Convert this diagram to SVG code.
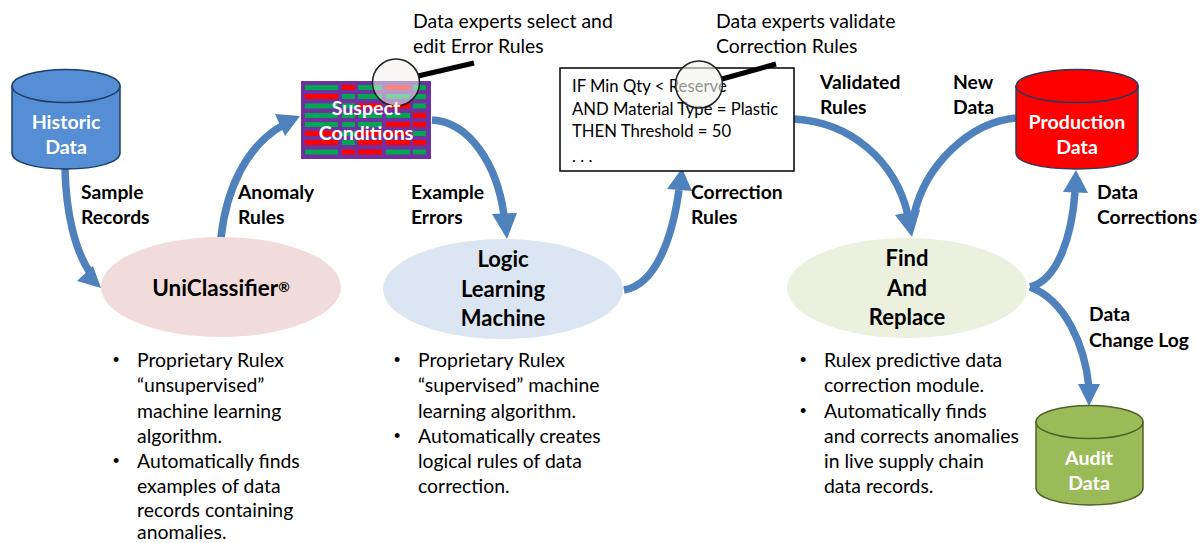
<svg xmlns="http://www.w3.org/2000/svg" width="1203" height="543" viewBox="0 0 1203 543">
<style>
text{font-family:"Lato","Carlito","Open Sans",sans-serif;font-size:19.4px;fill:#000}
.b{font-weight:700;font-size:19.3px}
.w{font-weight:700;fill:#fff;text-anchor:middle;font-size:19.6px}
.t{font-weight:700;text-anchor:middle;font-size:22px}
.s{font-size:16.7px}
.d{font-family:"Liberation Sans",sans-serif;font-size:18px}
.c{fill:none;stroke:#4f81bd;stroke-width:7.5}
.h{fill:#4f81bd}
.g{fill:#00a651}.r{fill:#ff0000}
.lens{fill:#f2f1ec;stroke:#222;stroke-width:1.5}
</style>
<rect width="1203" height="543" fill="#fff"/>
<g id="connectors">
<path class="c" d="M65 169C66 210 74 250 91 274"/><path class="h" d="M101 288L77 281L93 266Z"/>
<path class="c" d="M221 238C226 190 246 145 285 124"/><path class="h" d="M300 116L285 136L275 114Z"/>
<path class="c" d="M432 120C470 122 497 165 504 215"/><path class="h" d="M507 239L492 214L517 213Z"/>
<path class="c" d="M624 290C655 285 672 240 679 190"/><path class="h" d="M682 168L692 191L667 189Z"/>
<path class="c" d="M794 119C850 122 895 160 908 215"/><path class="h" d="M912 237L895 215L920 210Z"/>
<path class="c" d="M1016 118C970 122 925 165 914 215"/>
<path class="c" d="M1030 287C1058 280 1072 235 1075 192"/><path class="h" d="M1076 170L1088 193L1063 192Z"/>
<path class="c" d="M1030 287C1065 300 1085 345 1089 388"/><path class="h" d="M1089 406L1078 384L1100 384Z"/>
</g>
<g id="historic-data">
<path d="M12 86V153C12 162 34 169 66 169S120 162 120 153V86Z" fill="#558ed5" stroke="#1f3f66" stroke-width="1.5"/>
<ellipse cx="66" cy="86" rx="54" ry="16.500" fill="#558ed5" stroke="#1f3f66" stroke-width="1.5"/>
<text class="w" x="66" y="129">Historic</text><text class="w" x="66" y="154">Data</text>
</g>
<g id="production-data">
<path d="M1016 86V153C1016 162 1038 169 1077 169S1138 162 1138 153V86Z" fill="#ff0000" stroke="#2b3a5c" stroke-width="1.5"/>
<ellipse cx="1077" cy="86" rx="61" ry="16.500" fill="#ff0000" stroke="#2b3a5c" stroke-width="1.5"/>
<text class="w" x="1077" y="129">Production</text><text class="w" x="1077" y="154">Data</text>
</g>
<g id="audit-data">
<path d="M1036 422V488C1036 497 1058 505 1090 505S1143 497 1143 488V422Z" fill="#9bbb59" stroke="#4f6228" stroke-width="1.5"/>
<ellipse cx="1089.500" cy="422" rx="53.500" ry="16.500" fill="#9bbb59" stroke="#4f6228" stroke-width="1.5"/>
<text class="w" x="1089" y="465">Audit</text><text class="w" x="1089" y="490">Data</text>
</g>
<g id="uniclassifier">
<ellipse cx="221" cy="287" rx="120" ry="50" fill="#f2dcdb"/>
<text class="t" x="221" y="296" font-size="22.5" style="font-size:22.5px">UniClassifier<tspan style="font-size:14px" dy="-4">®</tspan></text>
</g>
<g id="logic-learning-machine">
<ellipse cx="503" cy="289" rx="120" ry="50" fill="#dce6f2"/>
<text class="t" x="503" y="267">Logic</text><text class="t" x="503" y="297">Learning</text><text class="t" x="503" y="326">Machine</text>
</g>
<g id="find-and-replace">
<ellipse cx="907" cy="288" rx="120" ry="50" fill="#ebf1de"/>
<text class="t" x="907" y="266">Find</text><text class="t" x="907" y="296">And</text><text class="t" x="907" y="325">Replace</text>
</g>
<g id="suspect-conditions">
<rect x="301" y="81" width="130" height="78" fill="#7030a0"/>
<g>
<rect class="g" x="305" y="85" width="33" height="5"/><rect class="r" x="342" y="85" width="13" height="5"/><rect class="g" x="358" y="85" width="24" height="5"/><rect class="r" x="386" y="85" width="24" height="5"/><rect class="g" x="413" y="85" width="13" height="5"/>
<rect class="r" x="305" y="94" width="33" height="5"/><rect class="g" x="342" y="94" width="13" height="5"/><rect class="g" x="358" y="94" width="24" height="5"/><rect class="g" x="386" y="94" width="24" height="5"/><rect class="g" x="413" y="94" width="13" height="5"/>
<rect class="g" x="305" y="103.500" width="33" height="5"/><rect class="g" x="342" y="103.500" width="13" height="5"/><rect class="r" x="358" y="103.500" width="24" height="5"/><rect class="r" x="386" y="103.500" width="24" height="5"/><rect class="g" x="413" y="103.500" width="13" height="5"/>
<rect class="g" x="305" y="113" width="33" height="5"/><rect class="g" x="342" y="113" width="13" height="5"/><rect class="g" x="358" y="113" width="24" height="5"/><rect class="g" x="386" y="113" width="24" height="5"/><rect class="r" x="413" y="113" width="13" height="5"/>
<rect class="g" x="305" y="122" width="33" height="5"/><rect class="g" x="342" y="122" width="13" height="5"/><rect class="g" x="358" y="122" width="24" height="5"/><rect class="r" x="386" y="122" width="24" height="5"/><rect class="r" x="413" y="122" width="13" height="5"/>
<rect class="r" x="305" y="131" width="33" height="5"/><rect class="g" x="342" y="131" width="13" height="5"/><rect class="r" x="358" y="131" width="24" height="5"/><rect class="r" x="386" y="131" width="24" height="5"/><rect class="g" x="413" y="131" width="13" height="5"/>
<rect class="r" x="305" y="140" width="33" height="5"/><rect class="g" x="342" y="140" width="13" height="5"/><rect class="r" x="358" y="140" width="24" height="5"/><rect class="r" x="386" y="140" width="24" height="5"/><rect class="r" x="413" y="140" width="13" height="5"/>
<rect class="g" x="305" y="149.500" width="33" height="5"/><rect class="r" x="342" y="149.500" width="13" height="5"/><rect class="r" x="358" y="149.500" width="24" height="5"/><rect class="g" x="386" y="149.500" width="24" height="5"/><rect class="g" x="413" y="149.500" width="13" height="5"/>
</g>
<line x1="418" y1="76" x2="474" y2="63" stroke="#000" stroke-width="5"/>
<circle class="lens" cx="396" cy="82.500" r="23.500" fill-opacity=".55"/>
<text class="w" x="366" y="115">Suspect</text><text class="w" x="366" y="140">Conditions</text>
</g>
<g id="correction-rules-box">
<rect x="560" y="68" width="234" height="103" fill="#fff" stroke="#000" stroke-width="1.500"/>
<text class="s" x="572" y="92">IF Min Qty &lt; Reserve</text>
<text class="s" x="572" y="115">AND Material Type = Plastic</text>
<text class="s" x="572" y="137">THEN Threshold = 50</text>
<text class="s" x="572" y="162">. . .</text>
<line x1="722" y1="79" x2="776" y2="64" stroke="#000" stroke-width="5"/>
<circle class="lens" cx="699" cy="84.500" r="23.500" fill-opacity=".6"/>
</g>
<g id="labels">
<text x="413" y="28">Data experts select and</text><text x="413" y="53">edit Error Rules</text>
<text x="716" y="28">Data experts validate</text><text x="716" y="53">Correction Rules</text>
<g>
<text class="b" x="81" y="199">Sample</text><text class="b" x="81" y="224">Records</text>
<text class="b" x="238" y="199">Anomaly</text><text class="b" x="238" y="224">Rules</text>
<text class="b" x="411" y="199">Example</text><text class="b" x="411" y="224">Errors</text>
<text class="b" x="691" y="199">Correction</text><text class="b" x="691" y="224">Rules</text>
<text class="b" x="820" y="89">Validated</text><text class="b" x="820" y="114">Rules</text>
<text class="b" x="953" y="89">New</text><text class="b" x="953" y="114">Data</text>
<text class="b" x="1097" y="199">Data</text><text class="b" x="1097" y="224">Corrections</text>
<text class="b" x="1089" y="321">Data</text><text class="b" x="1089" y="347">Change Log</text>
</g>
<text class="d" x="113" y="366">•</text><text x="137" y="367">Proprietary Rulex</text>
<text x="137" y="392">“unsupervised”</text><text x="137" y="418">machine learning</text><text x="137" y="443">algorithm.</text>
<text class="d" x="113" y="467">•</text><text x="137" y="468">Automatically finds</text>
<text x="137" y="493">examples of data</text><text x="137" y="517">records containing</text><text x="137" y="539">anomalies.</text>
<text class="d" x="394" y="366">•</text><text x="418" y="367">Proprietary Rulex</text>
<text x="418" y="392">“supervised” machine</text><text x="418" y="418">learning algorithm.</text>
<text class="d" x="394" y="442">•</text><text x="418" y="443">Automatically creates</text>
<text x="418" y="468">logical rules of data</text><text x="418" y="493">correction.</text>
<text class="d" x="800" y="366">•</text><text x="824" y="367">Rulex predictive data</text>
<text x="824" y="392">correction module.</text>
<text class="d" x="800" y="417">•</text><text x="824" y="418">Automatically finds</text>
<text x="824" y="443">and corrects anomalies</text><text x="824" y="468">in live supply chain</text><text x="824" y="493">data records.</text>
</g>
</svg>
